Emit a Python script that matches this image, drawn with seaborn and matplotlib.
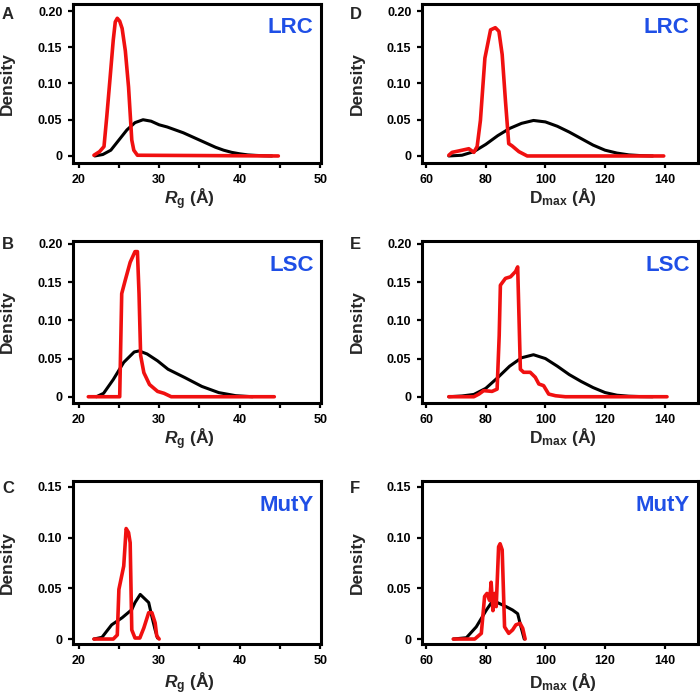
import matplotlib
matplotlib.use("Agg")
import matplotlib.pyplot as plt
import seaborn as sns

# ==========================
# DATA
# ==========================
# black = pool, red = selected ensemble
rg_lrc_pool_x = [22, 23, 24, 25, 26, 27, 28, 29, 30, 31, 32, 33, 34, 35, 36, 37, 38, 39, 40, 41, 42, 43, 44]
rg_lrc_pool_y = [0, 0.002, 0.008, 0.022, 0.036, 0.046, 0.050, 0.048, 0.043, 0.040, 0.036, 0.032,
                 0.027, 0.022, 0.017, 0.012, 0.008, 0.005, 0.003, 0.0015, 0.0008, 0.0003, 0]
rg_lrc_ens_x = [21.9, 22.6, 23.15, 23.5, 23.9, 24.3, 24.55, 24.8, 25.1, 25.4, 25.8, 26.2, 26.6, 26.85, 27.3, 44.8]
rg_lrc_ens_y = [0.001, 0.006, 0.013, 0.055, 0.107, 0.16, 0.185, 0.19, 0.186, 0.176, 0.145, 0.095,
                0.022, 0.008, 0.001, 0]

dmax_lrc_pool_x = [67.6, 72, 76, 80, 84, 88, 92, 96, 100, 104, 108, 112, 116, 120, 124, 128, 132, 136]
dmax_lrc_pool_y = [0, 0.001, 0.006, 0.016, 0.028, 0.038, 0.045, 0.049, 0.047, 0.041, 0.033, 0.024,
                   0.015, 0.008, 0.004, 0.0015, 0.0005, 0]
dmax_lrc_ens_x = [67.6, 68.7, 71, 74.3, 76, 77.1, 78.2, 79.7, 81.6, 83.2, 84.4, 85.5, 86.6, 87.7,
                  88.8, 91.1, 93.9, 139.7]
dmax_lrc_ens_y = [0.001, 0.005, 0.007, 0.010, 0.005, 0.013, 0.049, 0.135, 0.174, 0.177, 0.172, 0.14,
                  0.076, 0.017, 0.014, 0.006, 0, 0]

rg_lsc_pool_x = [22.2, 23.1, 24.3, 25.6, 26.9, 27.5, 28.5, 29.8, 31.1, 33.2, 35.3, 37.4, 39.5, 41.6]
rg_lsc_pool_y = [0, 0.0045, 0.0225, 0.045, 0.0586, 0.06, 0.056, 0.047, 0.036, 0.025, 0.0135, 0.0054, 0.0014, 0]
rg_lsc_ens_x = [21.2, 25.1, 25.35, 25.8, 26.4, 27.0, 27.3, 27.5, 27.7, 28.1, 28.8, 29.8, 30.6, 31.5, 44.3]
rg_lsc_ens_y = [0, 0, 0.135, 0.153, 0.176, 0.19, 0.19, 0.135, 0.054, 0.0315, 0.016, 0.007, 0.0045, 0, 0]

dmax_lsc_pool_x = [67.6, 72, 76, 80, 84, 88, 92, 96, 100, 104, 108, 112, 116, 120, 124, 128, 132, 136]
dmax_lsc_pool_y = [0, 0.001, 0.003, 0.011, 0.025, 0.040, 0.051, 0.055, 0.050, 0.040, 0.029, 0.020,
                   0.012, 0.0055, 0.002, 0.0007, 0.0002, 0]
dmax_lsc_ens_x = [67.6, 76, 77.7, 79.3, 82.1, 83.8, 84.5, 84.9, 86.6, 88.3, 90, 90.7, 91.6, 92.7,
                  94.9, 96.6, 97.8, 99.4, 101.1, 103.4, 106.7, 140.8]
dmax_lsc_ens_y = [0, 0, 0.0035, 0.008, 0.007, 0.01, 0.08, 0.146, 0.155, 0.157, 0.164, 0.17, 0.036,
                  0.032, 0.032, 0.0255, 0.0167, 0.0145, 0.0035, 0.0013, 0, 0]

rg_muty_pool_x = [21.9, 22.9, 24.1, 25.4, 26.6, 27.0, 27.65, 28.7, 29.1, 29.5, 29.8]
rg_muty_pool_y = [0, 0.0017, 0.014, 0.021, 0.029, 0.036, 0.044, 0.036, 0.022, 0.009, 0.001]
rg_muty_ens_x = [21.9, 24.3, 24.8, 25.0, 25.6, 25.9, 26.2, 26.4, 26.6, 27.0, 27.6, 28.1, 28.7, 29.1,
                 29.5, 29.7, 30.0]
rg_muty_ens_y = [0, 0, 0.004, 0.049, 0.072, 0.109, 0.105, 0.095, 0.009, 0.001, 0.001, 0.011, 0.026,
                 0.026, 0.016, 0.003, 0]

dmax_muty_pool_x = [69.1, 73.5, 76.8, 80.2, 82.4, 84.6, 86.8, 89, 90.7, 91.8, 92.9]
dmax_muty_pool_y = [0, 0.0013, 0.012, 0.0286, 0.038, 0.035, 0.032, 0.0286, 0.025, 0.012, 0]
dmax_muty_ens_x = [69.1, 76.3, 78.5, 79.6, 80.4, 81.3, 81.8, 82.4, 83.0, 83.5, 84.3, 84.8, 85.5, 86.3,
                   87.7, 89.0, 90.1, 91.5, 92.4, 93.2]
dmax_muty_ens_y = [0, 0, 0.0056, 0.042, 0.045, 0.038, 0.056, 0.028, 0.045, 0.032, 0.091, 0.094, 0.088,
                   0.012, 0.0056, 0.009, 0.014, 0.0155, 0.0105, 0]

panel_letters = ["A", "B", "C", "D", "E", "F"]
panel_names = ["LRC", "LSC", "MutY"]
rg_ticks = [20, 30, 40, 50]
rg_minor_ticks = [25, 35, 45]
dmax_ticks = [60, 80, 100, 120, 140]
dens_ticks_tall = [0, 0.05, 0.10, 0.15, 0.20]
dens_ticks_short = [0, 0.05, 0.10, 0.15]

# ==========================
# STYLE
# ==========================
sns.set_theme(style="ticks")
plt.rcParams["font.family"] = ["Liberation Sans", "DejaVu Sans"]
plt.rcParams["font.weight"] = "bold"
plt.rcParams["mathtext.fontset"] = "custom"
plt.rcParams["mathtext.it"] = "Liberation Sans:italic:bold"
plt.rcParams["mathtext.rm"] = "Liberation Sans:bold"
plt.rcParams["mathtext.bf"] = "Liberation Sans:bold"
plt.rcParams["axes.linewidth"] = 2.2

RED = "#f01010"
BLUE = "#1f4fe6"

fig = plt.figure(figsize=(7, 6.95), dpi=100)

# axes boxes in figure fractions
col_left = [73 / 700, 422 / 700]
col_width = [248 / 700, 276 / 700]
row_bottom = [1 - 163 / 695, 1 - 403 / 695, 1 - 644 / 695]
row_height = [159 / 695, 162 / 695, 163 / 695]
row_ylim = [(-0.0097, 0.2097), (-0.0082, 0.2039), (-0.0049, 0.1559)]
row_xlab = [-0.145, -0.142, -0.163]

panels = [
    # (col, row, pool_x, pool_y, ens_x, ens_y)
    (0, 0, rg_lrc_pool_x, rg_lrc_pool_y, rg_lrc_ens_x, rg_lrc_ens_y),
    (0, 1, rg_lsc_pool_x, rg_lsc_pool_y, rg_lsc_ens_x, rg_lsc_ens_y),
    (0, 2, rg_muty_pool_x, rg_muty_pool_y, rg_muty_ens_x, rg_muty_ens_y),
    (1, 0, dmax_lrc_pool_x, dmax_lrc_pool_y, dmax_lrc_ens_x, dmax_lrc_ens_y),
    (1, 1, dmax_lsc_pool_x, dmax_lsc_pool_y, dmax_lsc_ens_x, dmax_lsc_ens_y),
    (1, 2, dmax_muty_pool_x, dmax_muty_pool_y, dmax_muty_ens_x, dmax_muty_ens_y),
]

for i, (col, row, px, py, ex, ey) in enumerate(panels):
    ax = fig.add_axes([col_left[col], row_bottom[row], col_width[col], row_height[row]])

    sns.lineplot(x=px, y=py, ax=ax, color="black", linewidth=2.2, estimator=None, sort=False)
    sns.lineplot(x=ex, y=ey, ax=ax, color=RED, linewidth=2.6, estimator=None, sort=False)

    if col == 0:
        ax.set_xlim(19.3, 50.1)
        ax.set_xticks(rg_ticks)
        ax.set_xticks(rg_minor_ticks, minor=True)
        ax.set_xlabel(r"$R_{\mathrm{g}}$ (Å)", fontsize=12.5, fontweight="bold")
        ax.xaxis.set_label_coords(0.47, row_xlab[row])
        ax.yaxis.set_label_coords(-0.234, 0.61)
    else:
        ax.set_xlim(58.6, 151.2)
        ax.set_xticks(dmax_ticks)
        ax.set_xlabel(r"D$_{\mathrm{max}}$ (Å)", fontsize=12.5, fontweight="bold")
        ax.xaxis.set_label_coords(0.51, row_xlab[row])
        ax.yaxis.set_label_coords(-0.207, 0.61)

    ax.set_ylim(*row_ylim[row])
    yt = dens_ticks_short if row == 2 else dens_ticks_tall
    ax.set_yticks(yt)
    ax.set_yticklabels(["0" if v == 0 else f"{v:.2f}" for v in yt])
    ax.set_ylabel("Density", fontsize=12.5, fontweight="bold")

    ax.tick_params(which="both", direction="out", length=3.6, width=1.6, pad=4,
                   labelsize=9, colors="black")
    for lab in ax.get_xticklabels() + ax.get_yticklabels():
        lab.set_fontweight("bold")
    for sp in ax.spines.values():
        sp.set_linewidth(2.2)
        sp.set_color("black")

    ax.text(0.97, 0.815, panel_names[row], transform=ax.transAxes, ha="right", va="baseline",
            color=BLUE, fontsize=16, fontweight="bold")

    # panel letter at top-left corner of the panel block
    top_px = [7, 237, 481][row]
    left_px = [2, 350][col]
    fig.text(left_px / 700, 1 - top_px / 695, panel_letters[i], ha="left", va="top",
             fontsize=12, fontweight="bold")

fig.savefig("out.png", dpi=100)
